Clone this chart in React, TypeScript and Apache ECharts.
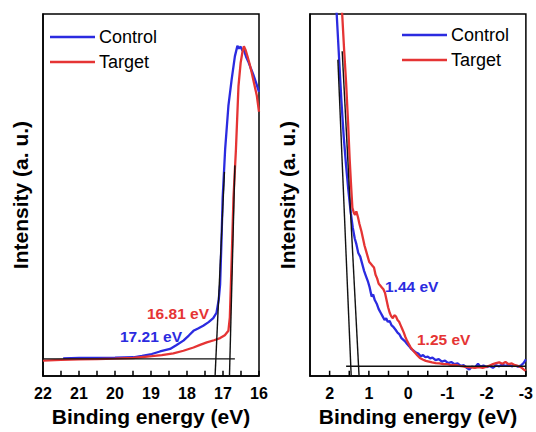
import React, { useEffect, useRef } from "react";
import * as echarts from "echarts";

// ---- Data (binding energy eV, intensity a.u.) ----
const legendNames = ["Control", "Target"];
const secoTicks = [16, 16.5, 17, 17.5, 18, 18.5, 19, 19.5, 20, 20.5, 21, 21.5, 22];
const vbTicks = [-3, -2.5, -2, -1.5, -1, -0.5, 0, 0.5, 1, 1.5, 2];

const secoControl: number[][] = [
  [21.44, 4.9], [21.0, 5.0], [20.5, 5.05], [20.0, 5.1], [19.49, 5.2], [19.25, 5.6], [18.98, 6.1],
  [18.75, 6.8], [18.47, 7.5], [18.3, 8.5], [18.1, 9.8], [17.95, 11.2], [17.82, 12.5], [17.68, 13.2],
  [17.55, 13.9], [17.4, 14.9], [17.27, 16.0], [17.18, 17.5], [17.12, 21], [17.08, 25.3], [17.04, 38],
  [17.01, 49], [16.94, 62.7], [16.85, 74.6], [16.76, 81.9], [16.67, 88.3], [16.6, 91.2], [16.56, 90.5],
  [16.51, 91.0], [16.46, 89.8], [16.42, 90.1], [16.36, 88.2], [16.3, 86.9], [16.22, 84.8], [16.16, 83.3],
  [16.08, 81.0], [16.0, 78.5],
];
const secoTarget: number[][] = [
  [22.0, 4.3], [21.5, 4.5], [21.0, 4.6], [20.5, 4.7], [20.0, 4.8], [19.49, 5.0], [18.98, 5.5],
  [18.7, 5.8], [18.38, 6.3], [18.1, 7.0], [17.82, 7.9], [17.62, 8.7], [17.45, 9.3], [17.25, 9.9],
  [17.08, 10.5], [16.95, 11.3], [16.85, 12.5], [16.81, 16.2], [16.76, 32], [16.71, 49], [16.64, 62.7],
  [16.57, 80.1], [16.51, 86.5], [16.46, 89.5], [16.42, 91.1], [16.37, 90.0], [16.32, 88.3],
  [16.26, 86.2], [16.2, 83.7], [16.13, 80.5], [16.06, 77.4], [16.0, 73.0],
];
const secoTangentControl: number[][] = [[17.22, 0], [16.96, 56.4]];
const secoTangentTarget: number[][] = [[16.82, 0], [16.67, 58.2]];
const secoBaseline: number[][] = [[22.0, 4.75], [16.67, 4.75]];

const vbControl: number[][] = [
  [1.86, 106], [1.82, 100], [1.76, 88], [1.7, 76], [1.64, 66], [1.58, 58], [1.52, 51], [1.46, 45],
  [1.41, 41], [1.36, 38], [1.32, 36.5], [1.27, 34], [1.22, 33], [1.17, 31], [1.12, 29], [1.07, 27.5],
  [1.02, 26], [0.98, 24.5], [0.93, 22], [0.89, 22.5], [0.85, 21], [0.8, 20], [0.75, 18.5], [0.7, 17.5],
  [0.65, 16.5], [0.6, 15.5], [0.56, 16], [0.52, 15], [0.47, 15.2], [0.42, 14], [0.37, 13.5],
  [0.32, 12.8], [0.27, 12], [0.22, 11.5], [0.17, 10.5], [0.12, 10], [0.07, 9.5], [0.02, 8.8],
  [-0.03, 8.2], [-0.08, 7.5], [-0.14, 7], [-0.2, 6.5], [-0.26, 6.2], [-0.32, 5.5], [-0.38, 5.8],
  [-0.44, 5.2], [-0.5, 5.4], [-0.56, 4.9], [-0.62, 5.1], [-0.7, 4.4], [-0.78, 4.7], [-0.86, 4.0],
  [-0.94, 4.3], [-1.02, 3.6], [-1.1, 3.9], [-1.18, 3.3], [-1.26, 3.5], [-1.34, 2.8], [-1.42, 3.0],
  [-1.5, 2.2], [-1.56, 1.8], [-1.62, 2.6], [-1.7, 2.4], [-1.78, 3.4], [-1.84, 2.6], [-1.92, 2.9],
  [-2.0, 2.5], [-2.08, 2.8], [-2.16, 2.3], [-2.24, 3.0], [-2.32, 2.7], [-2.4, 3.2], [-2.48, 2.8],
  [-2.56, 3.1], [-2.64, 2.7], [-2.72, 3.0], [-2.8, 2.6], [-2.88, 3.0], [-2.94, 3.6], [-3.0, 4.6],
];
const vbTarget: number[][] = [
  [1.72, 106], [1.68, 100], [1.63, 90], [1.58, 81], [1.53, 70], [1.49, 60], [1.45, 52], [1.42, 46.5],
  [1.38, 45], [1.35, 44.5], [1.32, 45.5], [1.28, 44], [1.24, 42], [1.19, 40], [1.15, 38], [1.11, 36],
  [1.07, 34.5], [1.03, 33], [0.99, 31.5], [0.95, 31], [0.91, 30.5], [0.87, 30], [0.83, 28], [0.79, 27],
  [0.75, 25.5], [0.71, 25], [0.67, 24.5], [0.63, 24], [0.59, 23], [0.55, 21], [0.51, 19], [0.47, 17.5],
  [0.43, 16.5], [0.39, 16], [0.35, 16.8], [0.31, 16.5], [0.27, 15.5], [0.23, 15], [0.19, 14],
  [0.15, 13], [0.11, 12], [0.07, 10.8], [0.03, 9.8], [-0.01, 9], [-0.06, 8], [-0.11, 7.3],
  [-0.17, 6.5], [-0.23, 5.8], [-0.3, 5.0], [-0.37, 4.6], [-0.45, 4.2], [-0.53, 4.0], [-0.61, 3.8],
  [-0.7, 3.6], [-0.8, 3.5], [-0.9, 3.3], [-1.0, 3.3], [-1.1, 3.0], [-1.2, 3.1], [-1.3, 2.8],
  [-1.4, 2.7], [-1.5, 2.5], [-1.6, 2.4], [-1.7, 2.3], [-1.8, 2.5], [-1.9, 2.3], [-2.0, 2.6],
  [-2.08, 2.9], [-2.16, 3.3], [-2.24, 3.6], [-2.32, 3.8], [-2.4, 3.4], [-2.48, 3.9], [-2.56, 3.3],
  [-2.64, 3.5], [-2.72, 3.0], [-2.8, 2.8], [-2.88, 2.4], [-2.95, 1.8], [-3.0, 1.4],
];
const vbTangentControl: number[][] = [[1.79, 87.4], [1.45, 0]];
const vbTangentTarget: number[][] = [[1.68, 89.7], [1.25, 0]];
const vbBaseline: number[][] = [[1.58, 2.7], [-3.0, 2.7]];

const annotations = [
  { text: "16.81 eV", x: 147, y: 313, color: "red" },
  { text: "17.21 eV", x: 120, y: 336, color: "blue" },
  { text: "1.44 eV", x: 385, y: 286, color: "blue" },
  { text: "1.25 eV", x: 417, y: 339, color: "red" },
];

const BLUE = "#2b2be0";
const RED = "#e53434";
const FONT = "'Liberation Sans', Arial, Helvetica, sans-serif";

export default function App() {
  const ref = useRef<HTMLDivElement>(null);
  useEffect(() => {
    if (!ref.current) return;
    const chart = echarts.init(ref.current, null, { renderer: "svg" });

    const xAxisBase = (gridIndex: number, min: number, max: number) => ({
      type: "value",
      gridIndex,
      min,
      max,
      inverse: true,
      interval: 1,
      name: "Binding energy (eV)",
      nameLocation: "middle",
      nameGap: 28,
      nameTextStyle: { fontSize: 21, fontWeight: "bold", color: "#000", fontFamily: FONT },
      axisLine: { show: true, onZero: false, lineStyle: { color: "#000", width: 1.5 } },
      axisTick: { show: false },
      splitLine: { show: false },
      axisLabel: {
        fontSize: 16,
        fontWeight: "bold",
        color: "#000",
        fontFamily: FONT,
        margin: 9,
        formatter: (v: number) => (Number.isInteger(v) ? String(v) : ""),
      },
    });
    const yAxisBase = (gridIndex: number) => ({
      type: "value",
      gridIndex,
      min: 0,
      max: 100,
      name: "Intensity (a. u.)",
      nameLocation: "middle",
      nameGap: 12,
      nameTextStyle: { fontSize: 21, fontWeight: "bold", color: "#000", fontFamily: FONT },
      axisLine: { show: true, onZero: false, lineStyle: { color: "#000", width: 1.5 } },
      axisTick: { show: false },
      axisLabel: { show: false },
      splitLine: { show: false },
    });

    const curve = (name: string, data: number[][], color: string, idx: number) => ({
      type: "line",
      name,
      data,
      xAxisIndex: idx,
      yAxisIndex: idx,
      showSymbol: false,
      symbol: "none",
      clip: true,
      lineStyle: { color, width: 2.3 },
      itemStyle: { color },
      z: 3,
    });
    const blackLine = (name: string, data: number[][], idx: number) => ({
      type: "line",
      name,
      data,
      xAxisIndex: idx,
      yAxisIndex: idx,
      showSymbol: false,
      symbol: "none",
      clip: true,
      lineStyle: { color: "#111", width: 1.4 },
      z: 4,
    });
    // tick marks drawn as short vertical line segments from the bottom of each panel
    const ticks = (name: string, values: number[], idx: number) => ({
      type: "line",
      name,
      xAxisIndex: idx,
      yAxisIndex: idx,
      showSymbol: false,
      symbol: "none",
      connectNulls: false,
      clip: false,
      silent: true,
      z: 5,
      lineStyle: { color: "#000", width: 1.5 },
      data: values.flatMap((v) => [[v, 0], [v, 1.5], [v, null]]),
    });

    const legendBase = (left: number, top: number) => ({
      data: legendNames,
      orient: "vertical",
      left,
      top,
      padding: 0,
      icon: "rect",
      itemWidth: 45,
      itemHeight: 2.5,
      itemGap: 7,
      itemStyle: { borderWidth: 0 },
      textStyle: { fontSize: 18, color: "#000", fontFamily: FONT, padding: [0, 0, 0, -1] },
      selectedMode: false,
    });

    chart.setOption({
      animation: false,
      backgroundColor: "#fff",
      grid: [
        { left: 43, top: 14, width: 216, height: 365, show: true, borderColor: "#000", borderWidth: 1.5, backgroundColor: "transparent" },
        { left: 310, top: 14, width: 217, height: 365, show: true, borderColor: "#000", borderWidth: 1.5, backgroundColor: "transparent" },
      ],
      xAxis: [xAxisBase(0, 16, 22), xAxisBase(1, -3, 2.5)],
      yAxis: [yAxisBase(0), yAxisBase(1)],
      legend: [legendBase(50, 28), legendBase(402, 26)],
      series: [
        curve("Control", secoControl, BLUE, 0),
        curve("Target", secoTarget, RED, 0),
        blackLine("tc1", secoTangentControl, 0),
        blackLine("tt1", secoTangentTarget, 0),
        blackLine("b1", secoBaseline, 0),
        ticks("ticks1", secoTicks, 0),
        curve("Control", vbControl, BLUE, 1),
        curve("Target", vbTarget, RED, 1),
        blackLine("tc2", vbTangentControl, 1),
        blackLine("tt2", vbTangentTarget, 1),
        blackLine("b2", vbBaseline, 1),
        ticks("ticks2", vbTicks, 1),
      ],
      graphic: annotations.map((a) => ({
        type: "text",
        x: a.x,
        y: a.y,
        z: 10,
        style: {
          text: a.text,
          fill: a.color === "red" ? RED : BLUE,
          fontSize: 15.5,
          fontWeight: "bold",
          fontFamily: FONT,
          textVerticalAlign: "middle",
          verticalAlign: "middle",
        },
      })),
    });
    return () => chart.dispose();
  }, []);
  return (
    <div
      ref={ref}
      style={{ position: "fixed", left: 0, top: 0, width: 536, height: 432, background: "#fff" }}
    />
  );
}
